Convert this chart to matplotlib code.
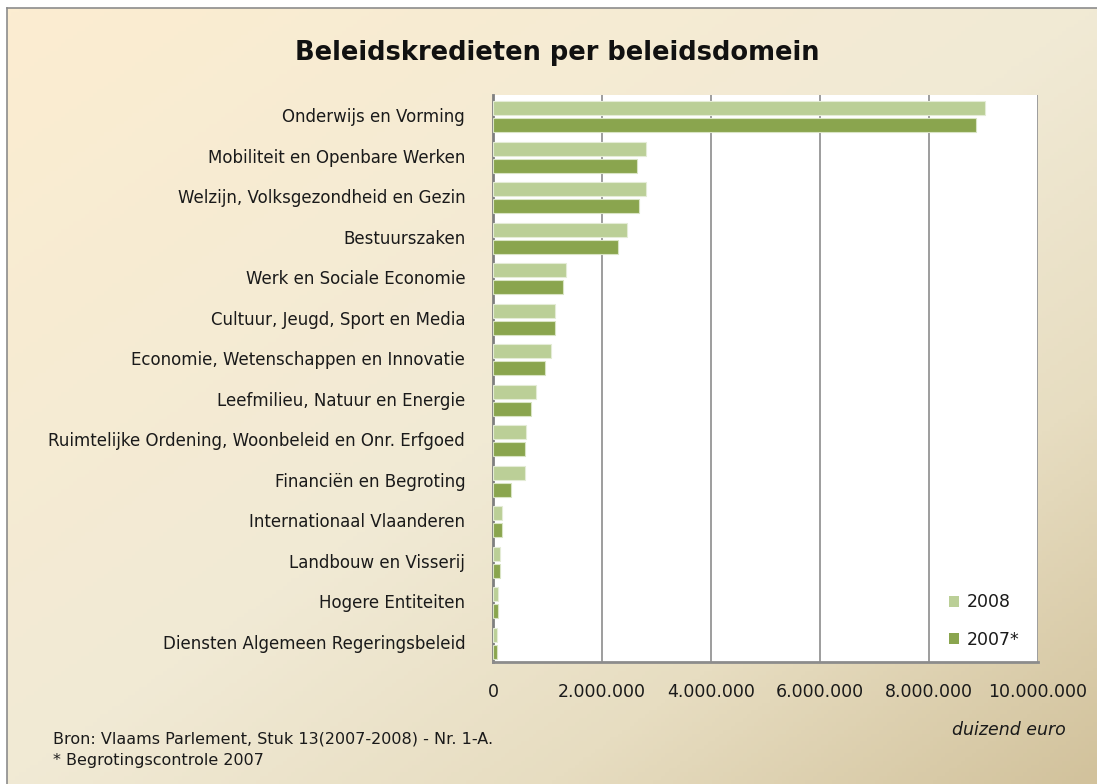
import numpy as np
import matplotlib
matplotlib.use("Agg")
import matplotlib.pyplot as plt
from matplotlib.colors import LinearSegmentedColormap
from matplotlib.patches import Patch
from matplotlib.ticker import FuncFormatter

categories = [
    "Onderwijs en Vorming",
    "Mobiliteit en Openbare Werken",
    "Welzijn, Volksgezondheid en Gezin",
    "Bestuurszaken",
    "Werk en Sociale Economie",
    "Cultuur, Jeugd, Sport en Media",
    "Economie, Wetenschappen en Innovatie",
    "Leefmilieu, Natuur en Energie",
    "Ruimtelijke Ordening, Woonbeleid en Onr. Erfgoed",
    "Financiën en Begroting",
    "Internationaal Vlaanderen",
    "Landbouw en Visserij",
    "Hogere Entiteiten",
    "Diensten Algemeen Regeringsbeleid",
]
values_2008 = [9030000, 2800000, 2800000, 2460000, 1340000, 1140000, 1070000,
               790000, 610000, 580000, 160000, 130000, 100000, 80000]
values_2007 = [8860000, 2650000, 2670000, 2290000, 1280000, 1140000, 960000,
               690000, 580000, 330000, 160000, 130000, 100000, 80000]
series_labels = ["2008", "2007*"]
xticks = [0, 2000000, 4000000, 6000000, 8000000, 10000000]

W, H = 1097, 784
fig = plt.figure(figsize=(W / 100, H / 100), dpi=100)
fig.patch.set_facecolor("white")

# gradient background panel
bg = fig.add_axes([7 / W, 0, 1 - 7 / W, 1 - 8 / H])
bg.set_zorder(-10)
cmap = LinearSegmentedColormap.from_list(
    "bg", [(0.0, "#FCEDD1"), (0.5, "#F1EAD5"), (0.75, "#E7DDC1"), (1.0, "#D2C29C")])
ny, nx = 200, 280
yy, xx = np.mgrid[0:ny, 0:nx]
t = (xx / (nx - 1) + yy / (ny - 1)) / 2
bg.imshow(t, cmap=cmap, aspect="auto", extent=[0, 1, 1, 0], vmin=0, vmax=1)
bg.set_xlim(0, 1)
bg.set_ylim(1, 0)
bg.set_xticks([])
bg.set_yticks([])
for s in ["top", "left"]:
    bg.spines[s].set_color("#8c8c8c")
    bg.spines[s].set_linewidth(1.2)
for s in ["right", "bottom"]:
    bg.spines[s].set_visible(False)

ax = fig.add_axes([493 / W, 1 - 662 / H, (1038 - 493) / W, (662 - 95) / H])
ax.set_facecolor("white")
y = np.arange(len(categories))
h = 0.35
ax.barh(y - 0.17, values_2008, height=h, color="#BBCF97", edgecolor="#E4ECD6",
        linewidth=0.8, zorder=3, label=series_labels[0])
ax.barh(y + 0.25, values_2007, height=h, color="#8AA54E", edgecolor="#D9E4C4",
        linewidth=0.8, zorder=3, label=series_labels[1])
ax.set_ylim(len(categories) - 0.5, -0.5)
ax.set_xlim(0, 10000000)
ax.set_xticks(xticks)
ax.xaxis.set_major_formatter(FuncFormatter(lambda v, p: f"{int(v):,}".replace(",", ".")))
ax.set_yticks(y)
ax.set_yticklabels(categories)
ax.grid(axis="x", color="#8c8c8c", linewidth=1.2, zorder=1)
ax.tick_params(axis="both", length=0, colors="#1a1a1a")
ax.tick_params(axis="x", pad=15, labelsize=12.5)
ax.tick_params(axis="y", pad=20, labelsize=12)
for s in ["top", "right"]:
    ax.spines[s].set_visible(False)
ax.spines["left"].set_color("#808080")
ax.spines["left"].set_linewidth(2)
ax.spines["bottom"].set_color("#8c8c8c")
ax.spines["bottom"].set_linewidth(2)

handles = [Patch(facecolor="#BBCF97", edgecolor="none"),
           Patch(facecolor="#8AA54E", edgecolor="none")]
fig.legend(handles, series_labels, loc="center left",
           bbox_to_anchor=(933 / W, 1 - 621 / H), frameon=False,
           handlelength=0.6, handleheight=0.6, handletextpad=0.45,
           labelspacing=1.1, fontsize=12.5, labelcolor="#1a1a1a")

fig.text(557 / W, 1 - 53 / H, "Beleidskredieten per beleidsdomein",
         ha="center", va="center", fontsize=18.5, fontweight="bold", color="#111111")
fig.text(1066 / W, 1 - 730 / H, "duizend euro", ha="right", va="center",
         fontsize=12.5, style="italic", color="#1a1a1a")
fig.text(53 / W, 1 - 739 / H, "Bron: Vlaams Parlement, Stuk 13(2007-2008) - Nr. 1-A.",
         ha="left", va="center", fontsize=11.5, color="#1a1a1a")
fig.text(53 / W, 1 - 761 / H, "* Begrotingscontrole 2007",
         ha="left", va="center", fontsize=11.5, color="#1a1a1a")

fig.savefig("out.png", dpi=100, facecolor=fig.get_facecolor())
